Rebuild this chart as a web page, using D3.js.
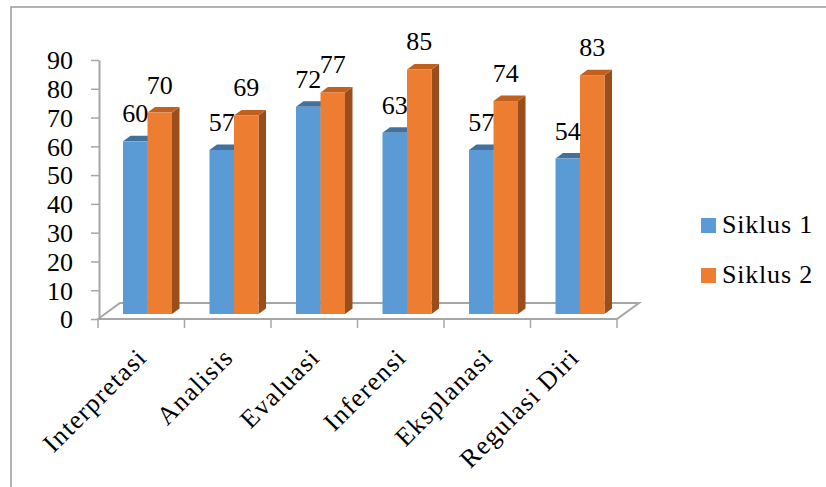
<!DOCTYPE html>
<html><head><meta charset="utf-8">
<script src="https://cdn.jsdelivr.net/npm/d3@7"></script>
<style>body{margin:0;background:#fff}svg{display:block}</style>
</head><body>
<svg id="c" width="826" height="487"></svg>
<script>
const categories = ["Interpretasi","Analisis","Evaluasi","Inferensi","Eksplanasi","Regulasi Diri"];
const seriesNames = ["Siklus 1","Siklus 2"];
const siklus1 = [60,57,72,63,57,54];
const siklus2 = [70,69,77,85,74,83];
const yTicks = [0,10,20,30,40,50,60,70,80,90];

const FONT = "'Liberation Serif', serif";
const FS = 26;
const colors = {
  "Siklus 1": {front:"#5B9BD5", top:"#41719C", side:"#3A6A96"},
  "Siklus 2": {front:"#ED7D31", top:"#C0601E", side:"#9C4D1C"}
};
const svg = d3.select("#c");

// frame
svg.append("rect").attr("x",11).attr("y",7).attr("width",840).attr("height",500)
  .attr("fill","none").attr("stroke","#9a9a9a").attr("stroke-width",1.5);

const x0 = d3.scaleBand().domain(categories).range([98,617]).paddingInner(0).paddingOuter(0);
const x1 = d3.scaleBand().domain(seriesNames).range([0,49]).padding(0);
const y = d3.scaleLinear().domain([0,90]).range([319,60]);
const barBase = -5, depthX = 7.5, depthY = -5.5, floorDX = 22, floorDY = -16;

// floor
const gc = "#A6A6A6";
svg.append("polygon")
  .attr("points",[[98,y(0)],[617,y(0)],[617+floorDX,y(0)+floorDY],[98+floorDX,y(0)+floorDY]].map(p=>p.join(",")).join(" "))
  .attr("fill","#fff").attr("stroke",gc).attr("stroke-width",2).attr("stroke-linejoin","miter");

// y axis
const yAxis = d3.axisLeft(y).tickValues(yTicks).tickSize(8).tickSizeOuter(0).tickPadding(18);
const ga = svg.append("g").attr("transform","translate(99,0)").call(yAxis);
ga.select(".domain").attr("stroke",gc).attr("stroke-width",2);
ga.selectAll(".tick line").attr("stroke",gc).attr("stroke-width",1.5);
ga.selectAll(".tick text").attr("font-family",FONT).attr("font-size",FS).attr("fill","#000").attr("dy","0.34em");

// x axis
const xa = svg.append("g").attr("transform",`translate(0,${y(0)})`);
xa.append("line").attr("x1",98).attr("x2",617).attr("stroke",gc).attr("stroke-width",2);
const edges = categories.map(c=>x0(c)).concat([x0.range()[1]]);
xa.selectAll("line.tk").data(edges).join("line").attr("class","tk")
  .attr("x1",d=>d).attr("x2",d=>d).attr("y1",0).attr("y2",9).attr("stroke",gc).attr("stroke-width",1.5);
xa.selectAll("text").data(categories).join("text")
  .attr("transform",d=>{const cx=x0(d)+x0.bandwidth()/2+7, cy=40; return `translate(${cx},${cy}) rotate(-45)`;})
  .attr("text-anchor","end").attr("font-family",FONT).attr("font-size",FS)
  .attr("letter-spacing","1.3px").text(d=>d);

// bars
const data = seriesNames.map((s,si)=>({name:s, values:(si===0?siklus1:siklus2)}));
const barOff = 25;
data.forEach(s=>{
  const g = svg.append("g");
  s.values.forEach((v,i)=>{
    const xl = x0(categories[i]) + barOff + x1(s.name);
    const w = x1.bandwidth();
    const yb = y(0)+barBase, yt = y(v)+barBase;
    const c = colors[s.name];
    g.append("polygon").attr("points",[[xl+w,yt],[xl+w+depthX,yt+depthY],[xl+w+depthX,yb+depthY],[xl+w,yb]].map(p=>p.join(",")).join(" ")).attr("fill",c.side);
    g.append("polygon").attr("points",[[xl,yt],[xl+depthX,yt+depthY],[xl+w+depthX,yt+depthY],[xl+w,yt]].map(p=>p.join(",")).join(" ")).attr("fill",c.top);
    g.append("rect").attr("x",xl).attr("y",yt).attr("width",w).attr("height",yb-yt).attr("fill",c.front);
  });
});
// labels
data.forEach(s=>{
  s.values.forEach((v,i)=>{
    const xl = x0(categories[i]) + barOff + x1(s.name);
    svg.append("text").attr("x",xl+x1.bandwidth()/2).attr("y",y(v)+barBase-19)
      .attr("text-anchor","middle").attr("font-family",FONT).attr("font-size",FS).text(v);
  });
});

// legend
const lg = svg.append("g");
seriesNames.forEach((s,i)=>{
  const yy = 218 + i*50;
  lg.append("rect").attr("x",701).attr("y",yy).attr("width",15).attr("height",15).attr("fill",colors[s].front);
  lg.append("text").attr("x",722).attr("y",yy+15).attr("font-family",FONT).attr("font-size",FS)
    .attr("letter-spacing","0.8px").text(s);
});
</script>
</body></html>
